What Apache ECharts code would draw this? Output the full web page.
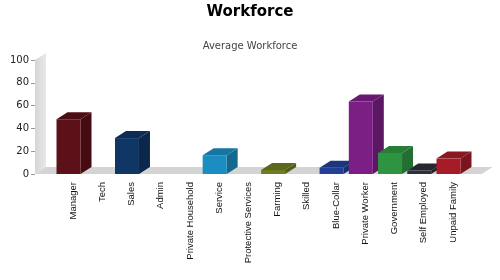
<!DOCTYPE html>
<html>
<head>
<meta charset="utf-8">
<script src="https://cdn.jsdelivr.net/npm/echarts@6/dist/echarts.min.js"></script>
<style>
html,body{margin:0;padding:0;background:#fff;}
#chart{width:500px;height:280px;}
</style>
</head>
<body>
<div id="chart"></div>
<script>
// ---- data ----
const CATEGORIES = ['Manager','Tech','Sales','Admin','Private Household','Service','Protective Services','Farming','Skilled','Blue-Collar','Private Worker','Government','Self Employed','Unpaid Family'];
const VALUES = [48, null, 31.5, null, null, 16.5, null, 3.5, null, 5.5, 63.5, 18.5, 3, 13.5];
const Y_TICKS = [0, 20, 40, 60, 80, 100];

// ---- style ----
const BAR_COLORS = ['#5c1017','#555555','#0f3665','#555555','#555555','#1b8dc0','#555555','#6e7d22','#555555','#213f94','#7b1f85','#2f9442','#2d3038','#a51b27'];
const GRID_LEFT = 58.4, GRID_RIGHT = 32.4, GRID_TOP = 60, GRID_BOTTOM = 106;
const Y_OFFSET = 23.4;
const DX = 11, DY = 7, FACE_W = 24, FACE_SHIFT = 16.5;

function shade(hex, f){
  const n = parseInt(hex.slice(1),16);
  const r = Math.round(((n>>16)&255)*f), g = Math.round(((n>>8)&255)*f), b = Math.round((n&255)*f);
  return 'rgb('+r+','+g+','+b+')';
}

const chart = echarts.init(document.getElementById('chart'), null, {renderer:'canvas'});
const option = {
  animation:false,
  backgroundColor:'#fff',
  title:[
    {text:'Workforce', left:'center', top:0,
     textStyle:{fontFamily:'DejaVu Sans', fontWeight:'bold', fontSize:15, color:'#000'}},
    {text:'Average Workforce', left:'center', top:36,
     textStyle:{fontFamily:'DejaVu Sans', fontWeight:'normal', fontSize:10, color:'#444'}}
  ],
  grid:{left:GRID_LEFT, right:GRID_RIGHT, top:GRID_TOP, bottom:GRID_BOTTOM},
  xAxis:{
    type:'category', data:CATEGORIES, boundaryGap:true,
    axisLine:{show:false}, axisTick:{show:false},
    axisLabel:{rotate:90, interval:0, margin:8, fontFamily:'Liberation Sans', fontSize:9.5, color:'#111'}
  },
  yAxis:{
    type:'value', min:Y_TICKS[0], max:Y_TICKS[Y_TICKS.length-1], interval:20, offset:Y_OFFSET,
    axisLine:{show:false},
    axisTick:{show:true, length:4, lineStyle:{color:'#999'}},
    splitLine:{show:false},
    axisLabel:{margin:6, fontFamily:'DejaVu Sans', fontSize:10, color:'#222'}
  },
  series:[{
    type:'custom', z:5,
    data: VALUES.map((v,i)=>[i, v]),
    renderItem:function(params, api){
      const v = api.value(1);
      if (v === null || v === undefined || isNaN(v)) return;
      const i = api.value(0);
      const c = api.coord([i, 0]);
      const t = api.coord([i, v]);
      const xl = c[0] - FACE_SHIFT, xr = xl + FACE_W;
      const yb = c[1], yt = t[1];
      const col = BAR_COLORS[params.dataIndex];
      return {type:'group', children:[
        {type:'polygon', shape:{points:[[xr,yt],[xr+DX,yt-DY],[xr+DX,yb-DY],[xr,yb]]}, style:{fill:shade(col,0.74)}},
        {type:'polygon', shape:{points:[[xl,yt],[xl+DX,yt-DY],[xr+DX,yt-DY],[xr,yt]]}, style:{fill:shade(col,0.84)}},
        {type:'polygon', shape:{points:[[xl,yt],[xr,yt],[xr,yb],[xl,yb]]}, style:{fill:col}}
      ]};
    }
  }]
};
chart.setOption(option);

// wall and floor derived from the axes
const y0 = chart.convertToPixel({yAxisIndex:0}, Y_TICKS[0]);
const y100 = chart.convertToPixel({yAxisIndex:0}, Y_TICKS[Y_TICKS.length-1]);
const ax = GRID_LEFT - Y_OFFSET;
const xEnd = 500 - GRID_RIGHT + 14;
chart.setOption({
  graphic:[
    {type:'polygon', z:0, shape:{points:[[ax,y0],[ax,y100],[ax+DX,y100-DY],[ax+DX,y0-DY]]},
     style:{fill:new echarts.graphic.LinearGradient(0,0,1,0,[{offset:0,color:'#d6d6d6'},{offset:1,color:'#e8e8e8'}])}},
    {type:'polygon', z:0, shape:{points:[[ax,y0],[ax+DX,y0-DY],[xEnd+DX,y0-DY],[xEnd,y0]]},
     style:{fill:'#d4d4d4'}}
  ]
});
</script>
</body>
</html>
